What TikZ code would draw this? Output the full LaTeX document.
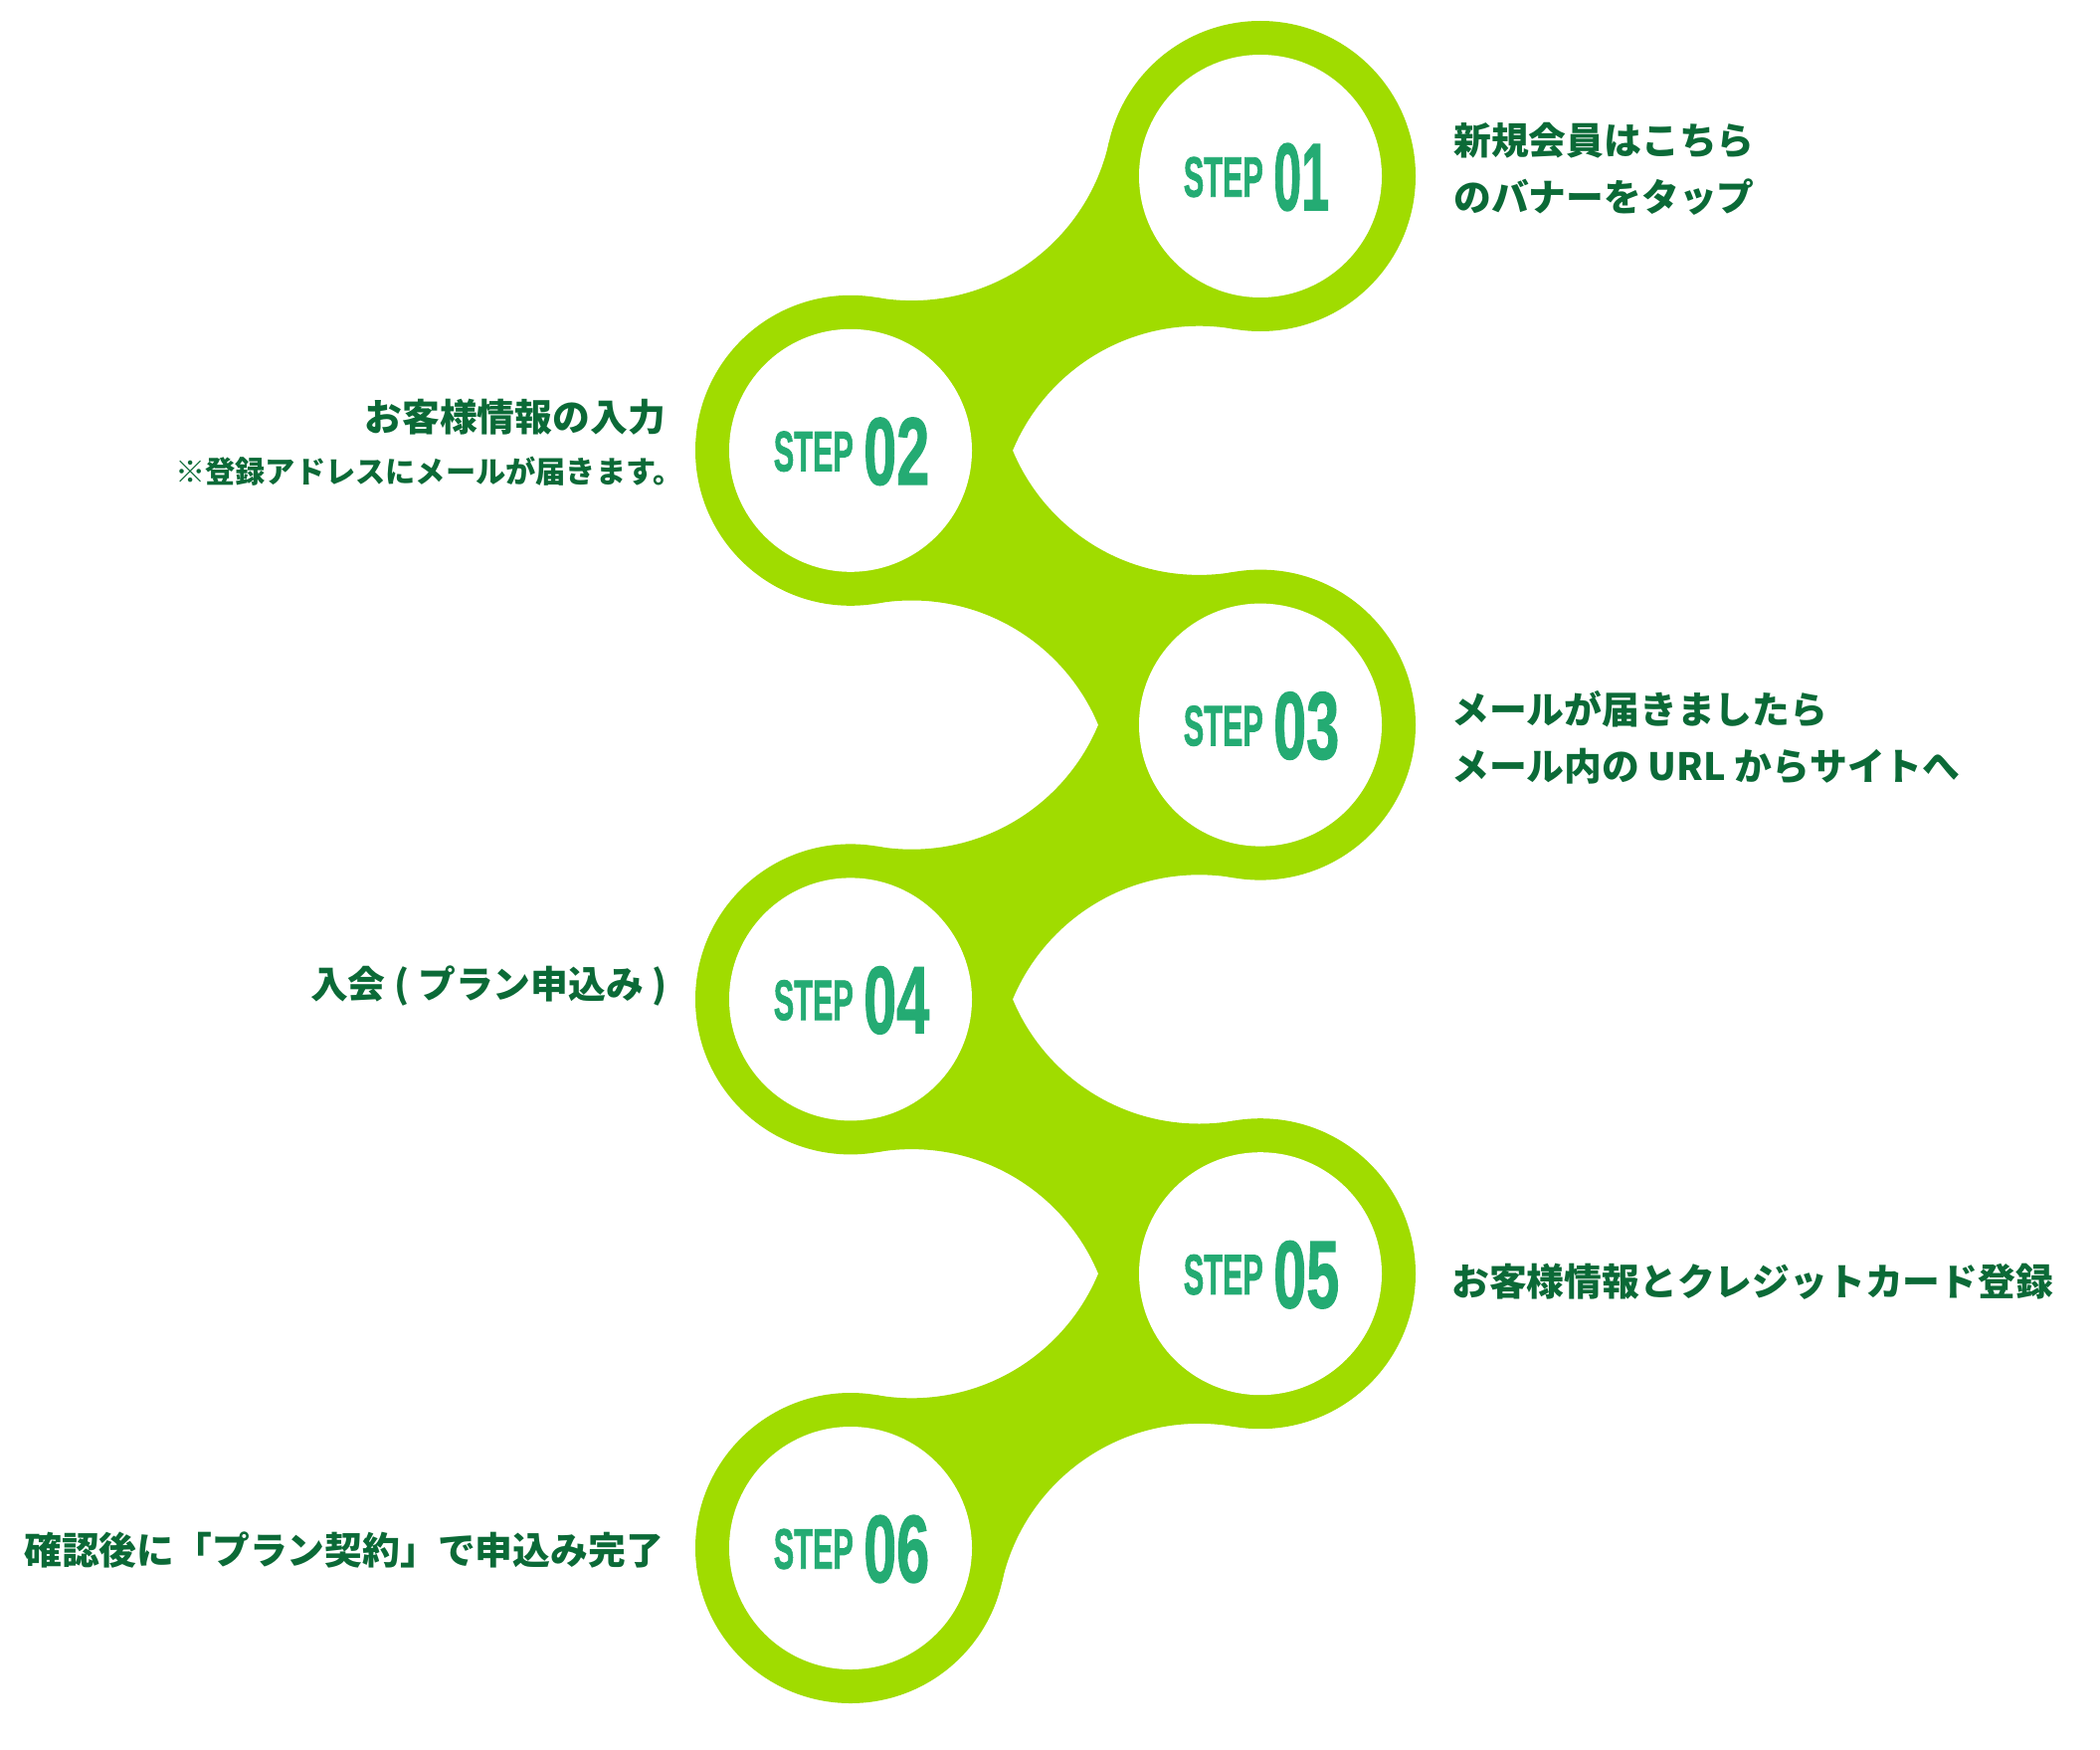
\documentclass[tikz,border=0pt]{standalone}
\usepackage{fontspec}
\usepackage{graphicx}
\usetikzlibrary{calc}
\newfontfamily\jp{Noto Sans CJK JP}
\newfontfamily\stepf{Liberation Sans Bold}[FakeBold=1.5]
\definecolor{ringgreen}{HTML}{A0DC00}
\definecolor{txtgreen}{HTML}{0B6A37}
\definecolor{stepgreen}{HTML}{24AB73}
\newcommand\mkbridge[2]{%
  \begin{scope}[shift={#1},xscale=#2]
    \clip (0,0) -- (-152.3,-33.8) -- (-385.3,122.1) -- (-412,275.8) -- (-259.7,309.6) -- (-26.7,153.7) -- cycle;
    \fill[ringgreen,even odd rule] (-500,-200) rectangle (100,400)
      (-350.5,-77.9) circle[radius=203] (-61.5,353.7) circle[radius=203];
  \end{scope}}
\tikzset{
  lab/.style={font=\jp\bfseries\fontsize{37.8}{40}\selectfont, text=txtgreen, inner sep=0pt, text height=33.2pt, text depth=4.6pt},
  note/.style={font=\jp\bfseries\fontsize{30.2}{32}\selectfont, text=txtgreen, inner sep=0pt, text height=26.6pt, text depth=3.6pt},
  stepword/.style={text=stepgreen, inner sep=0pt, anchor=east},
  stepnum/.style={text=stepgreen, inner sep=0pt, anchor=west}
}
\begin{document}
\begin{tikzpicture}[x=1pt,y=-1pt]
\useasboundingbox (0,0) rectangle (2111,1758);
\coordinate (c1) at (1267,177);
\coordinate (c2) at (855,452.8);
\coordinate (c3) at (1267,728.6);
\coordinate (c4) at (855,1004.4);
\coordinate (c5) at (1267,1280.2);
\coordinate (c6) at (855,1556);
% bridges
\mkbridge{(c1)}{1}
\mkbridge{(c2)}{-1}
\mkbridge{(c3)}{1}
\mkbridge{(c4)}{-1}
\mkbridge{(c5)}{1}
% rings
\foreach \i in {1,...,6}{
  \fill[ringgreen] (c\i) circle[radius=156];
  \fill[white] (c\i) circle[radius=122];
}
% step labels
\foreach \i/\w in {1/56,2/66,3/66,4/66,5/66,6/66}{
  \node[stepword] (sw\i) at ($(c\i)+(3,1)$) {\resizebox{80pt}{40pt}{\stepf STEP}};
  \node[stepnum] (sn\i) at ($(c\i)+(13,1)$) {\resizebox{\w pt}{67pt}{\stepf 0\i}};
}
% texts
\node[lab,anchor=west] (t1a) at (1461,141) {新規会員はこちら};
\node[lab,anchor=west] (t1b) at (1461,198) {のバナーをタップ};
\node[lab,anchor=east] (t2a) at (669,419) {お客様情報の入力};
\node[note,anchor=west] (t2b) at (176,474) {※登録アドレスにメールが届きます。};
\node[lab,anchor=west] (t3a) at (1459,713) {メールが届きましたら};
\node[lab,anchor=west] (t3b) at (1459,770) {メール内の URL からサイトへ};
\node[lab,anchor=east] (t4) at (671,989) {入会 ( プラン申込み )};
\node[lab,anchor=west] (t5) at (1459,1288) {お客様情報とクレジットカード登録};
\node[lab,anchor=west] (t6) at (24,1558) {確認後に「プラン契約」で申込み完了};
\end{tikzpicture}
\end{document}
